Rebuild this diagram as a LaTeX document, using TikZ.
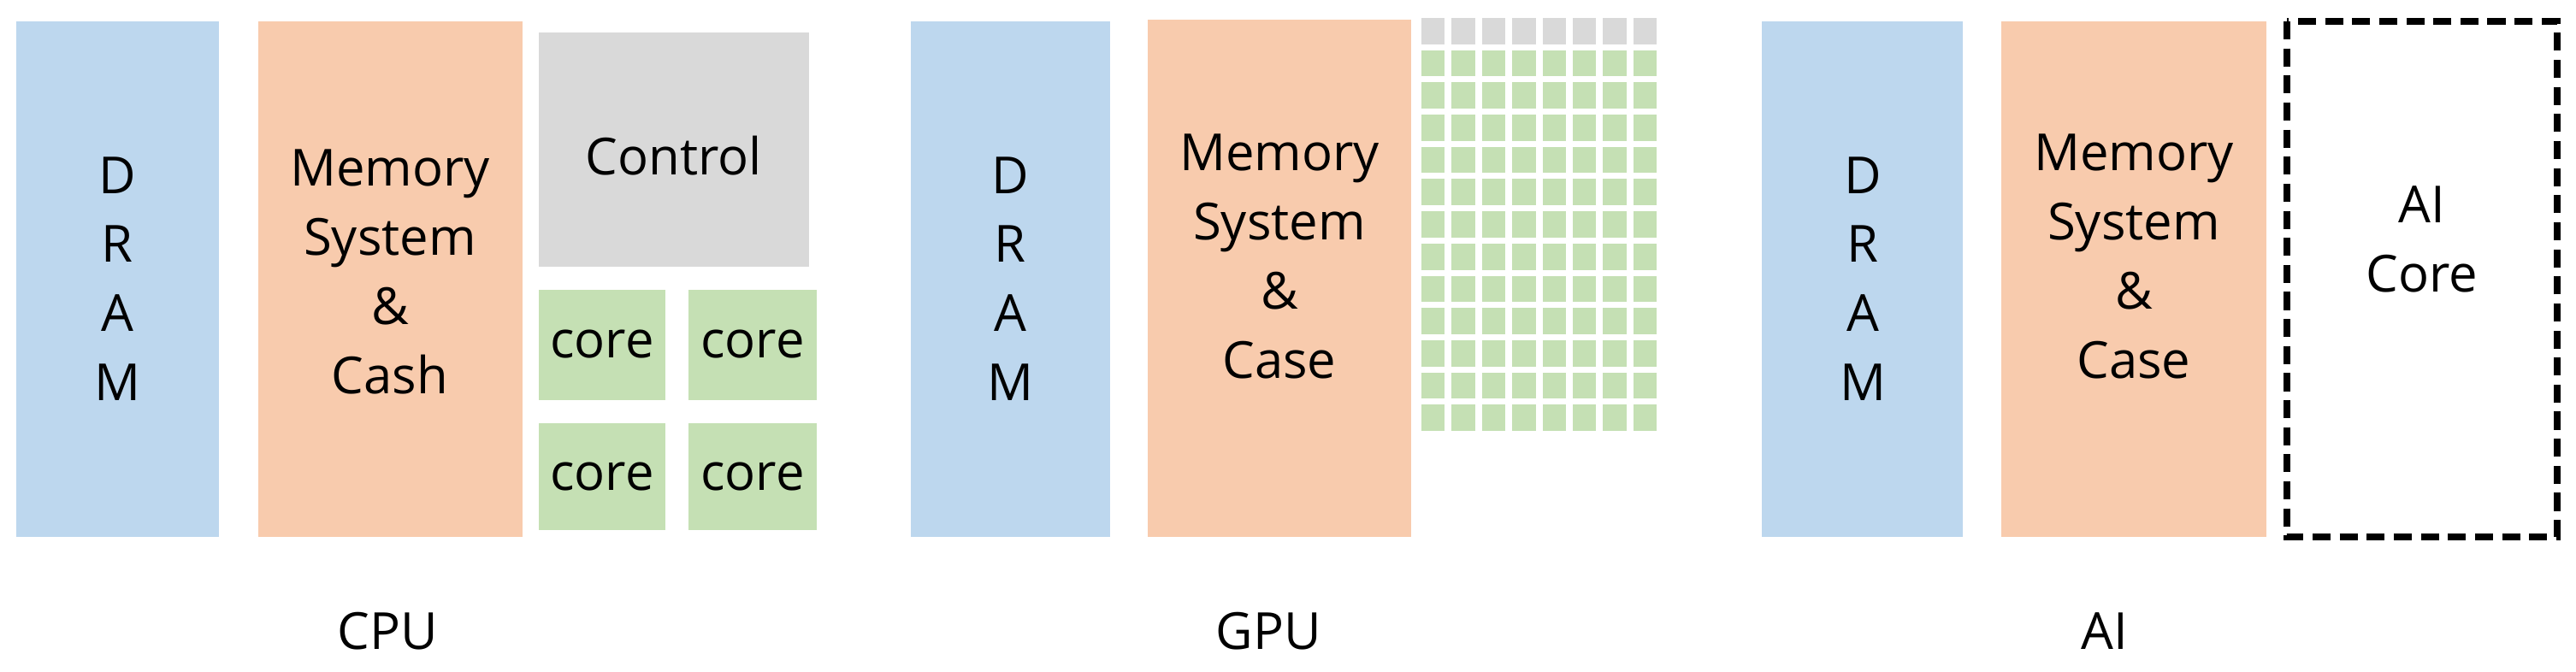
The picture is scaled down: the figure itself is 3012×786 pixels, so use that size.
\documentclass[tikz,border=0pt]{standalone}
\usepackage{fontspec}
\setmainfont{Open Sans}
\definecolor{dblue}{HTML}{BDD7EE}
\definecolor{morange}{HTML}{F8CBAD}
\definecolor{cgreen}{HTML}{C5E0B4}
\definecolor{cgray}{HTML}{D9D9D9}
\begin{document}
\begin{tikzpicture}[x=0.01cm,y=-0.01cm,
  txt/.style={font=\fontsize{17}{23}\selectfont,align=center,text=black},
  dram/.style={fill=dblue,draw=none},
  mem/.style={fill=morange,draw=none},
  core/.style={fill=cgreen,draw=none},
  ctrl/.style={fill=cgray,draw=none}]
\useasboundingbox (0,0) rectangle (3012,786);
% CPU
\fill[dram] (19,25) rectangle (256,628);
\node[txt] (d1) at (137,326) {D\\R\\A\\M};
\fill[mem] (302,25) rectangle (611,628);
\node[txt] (m1) at (456,318) {Memory\\System\\\&\\Cash};
\fill[ctrl] (630,38) rectangle (946,312);
\node[txt] (c1) at (788,182) {Control};
\fill[core] (630,339) rectangle (778,468); \node[txt] (k1) at (704,403) {core};
\fill[core] (805,339) rectangle (955,468); \node[txt] (k2) at (880,403) {core};
\fill[core] (630,495) rectangle (778,620); \node[txt] (k3) at (704,558) {core};
\fill[core] (805,495) rectangle (955,620); \node[txt] (k4) at (880,558) {core};
\node[txt] (l1) at (453,738) {CPU};
% GPU
\fill[dram] (1065,25) rectangle (1298,628);
\node[txt] (d2) at (1181,326) {D\\R\\A\\M};
\fill[mem] (1342,23) rectangle (1650,628);
\node[txt] (m2) at (1496,300) {Memory\\System\\\&\\Case};
\foreach \r in {0,...,12}{
  \foreach \c in {0,...,7}{
    \ifnum\r=0
      \fill[ctrl] ({1662+35.4*\c},{21+37.7*\r}) rectangle ++(27.3,30.7);
    \else
      \fill[core] ({1662+35.4*\c},{21+37.7*\r}) rectangle ++(27.3,30.7);
    \fi
  }
}
\node[txt] (l2) at (1483,738) {GPU};
% AI
\fill[dram] (2060,25) rectangle (2295,628);
\node[txt] (d3) at (2178,326) {D\\R\\A\\M};
\fill[mem] (2340,25) rectangle (2650,628);
\node[txt] (m3) at (2495,300) {Memory\\System\\\&\\Case};
\draw[dashed,line width=2.2pt,dash pattern=on 6pt off 3pt] (2674,25) rectangle (2990,628);
\node[txt] (a3) at (2832,280) {AI\\Core};
\node[txt] (l3) at (2461,738) {AI};
\end{tikzpicture}
\end{document}
